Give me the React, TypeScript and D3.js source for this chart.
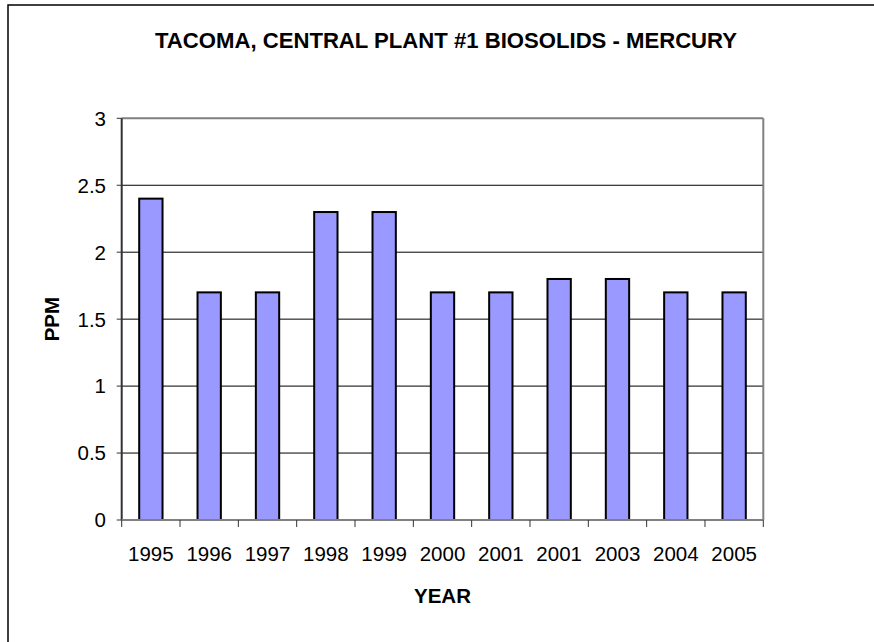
import React from "react";
import * as d3 from "d3";

const categories = ["1995", "1996", "1997", "1998", "1999", "2000", "2001", "2001", "2003", "2004", "2005"];
const values = [2.4, 1.7, 1.7, 2.3, 2.3, 1.7, 1.7, 1.8, 1.8, 1.7, 1.7];
const yTicks = [0, 0.5, 1, 1.5, 2, 2.5, 3];
const title = "TACOMA, CENTRAL PLANT #1 BIOSOLIDS - MERCURY";
const xTitle = "YEAR";
const yTitle = "PPM";

export default function App() {
  const W = 874, H = 642;
  const left = 121.7, right = 763.3, top = 118.3, bottom = 520;
  const idx = categories.map((_, i) => String(i));
  const x = d3.scaleBand().domain(idx).range([left, right]).paddingInner(0.6).paddingOuter(0.3);
  const xb = d3.scaleBand().domain(idx).range([left, right]);
  const y = d3.scaleLinear().domain([0, 3]).range([bottom, top]);
  const font = "'Liberation Sans', Arial, sans-serif";
  return (
    <svg width={W} height={H} style={{ position: "absolute", left: 0, top: 0, background: "#fff" }} fontFamily={font}>
      <rect x={8} y={5} width={W + 20} height={H + 20} fill="#fff" stroke="#000" strokeWidth={1.5} />
      <text x={446} y={48} textAnchor="middle" fontWeight="bold" fontSize={22.2} textLength={582} lengthAdjust="spacingAndGlyphs">{title}</text>
      {/* gridlines */}
      {yTicks.filter(t => t > 0 && t < 3).map(t => (
        <line key={t} x1={left} x2={right} y1={y(t)} y2={y(t)} stroke="#000" strokeWidth={1} />
      ))}
      {/* plot border */}
      <line x1={left} x2={right} y1={top} y2={top} stroke="#808080" strokeWidth={2} />
      <line x1={right} x2={right} y1={top} y2={bottom} stroke="#808080" strokeWidth={2} />
      {/* bars */}
      {values.map((v, i) => (
        <rect key={i} x={x(String(i))} y={y(v)} width={x.bandwidth()} height={y(0) - y(v)}
          fill="#9999FF" stroke="#000" strokeWidth={2} />
      ))}
      {/* axes */}
      <line x1={left} x2={left} y1={top} y2={bottom} stroke="#333" strokeWidth={2} />
      <line x1={left} x2={right} y1={bottom} y2={bottom} stroke="#808080" strokeWidth={2} />
      {yTicks.map(t => (
        <g key={t}>
          <line x1={left - 5} x2={left} y1={y(t)} y2={y(t)} stroke="#333" strokeWidth={1} />
          <text x={106} y={y(t)} dy="0.36em" textAnchor="end" fontSize={20.5}>{String(t)}</text>
        </g>
      ))}
      {idx.map((k, i) => (
        <line key={"t" + i} x1={xb(k)!} x2={xb(k)!} y1={bottom} y2={bottom + 7} stroke="#333" strokeWidth={1} />
      ))}
      <line x1={right} x2={right} y1={bottom} y2={bottom + 7} stroke="#333" strokeWidth={1} />
      {categories.map((c, i) => (
        <text key={"l" + i} x={xb(String(i))! + xb.bandwidth() / 2} y={560.5} textAnchor="middle" fontSize={20.5}>{c}</text>
      ))}
      <text x={(left + right) / 2} y={602.5} textAnchor="middle" fontWeight="bold" fontSize={20.5}>{xTitle}</text>
      <text transform={`translate(59,${(top + bottom) / 2}) rotate(-90)`} textAnchor="middle" fontWeight="bold" fontSize={20.5}>{yTitle}</text>
    </svg>
  );
}
